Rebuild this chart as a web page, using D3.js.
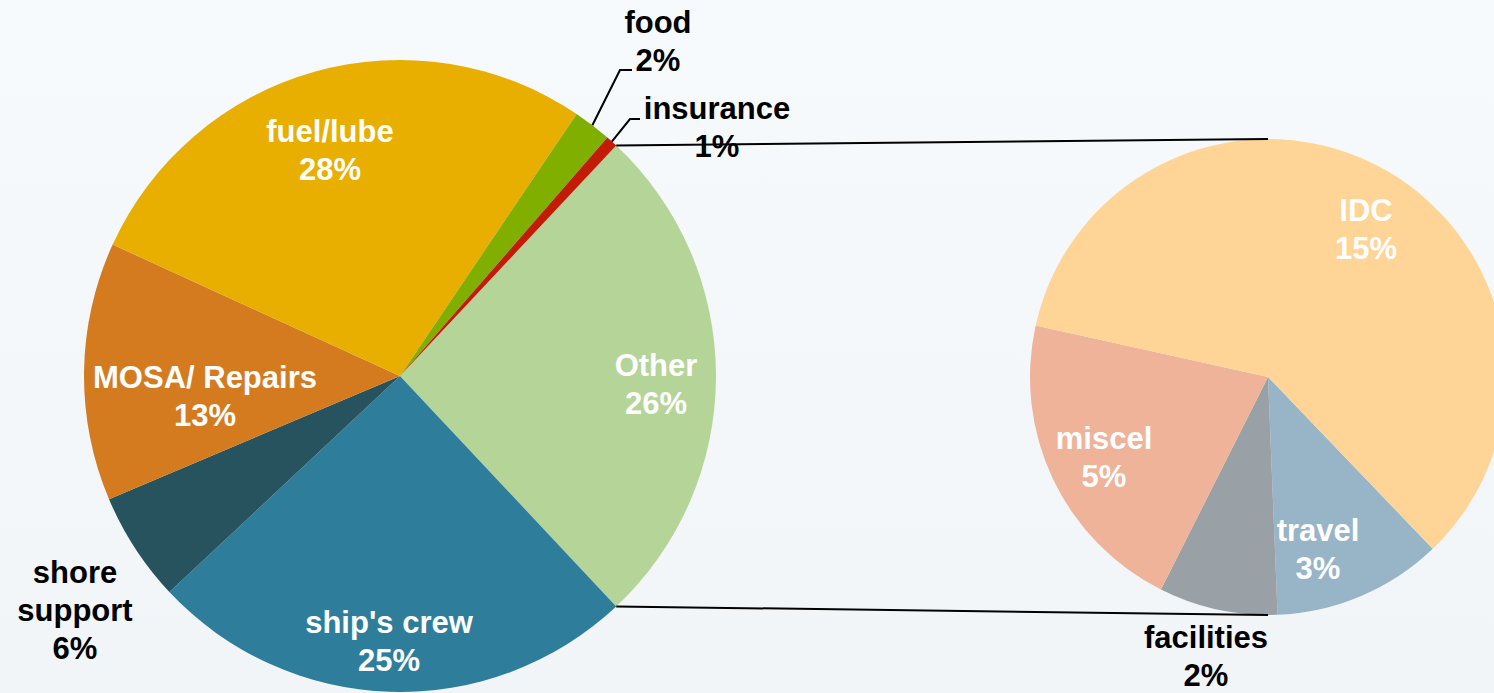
<!DOCTYPE html>
<html>
<head>
<meta charset="utf-8">
<script src="https://cdn.jsdelivr.net/npm/d3@7"></script>
<style>
  html, body { margin: 0; padding: 0; background: #f6f9fb; }
  svg { display: block; }
  text { font-family: "Liberation Sans", Arial, sans-serif; font-weight: bold; }
</style>
</head>
<body>
<svg id="chart" width="1494" height="693"></svg>
<script>
// ---- data ----
const mainCategories = ["Other", "ship's crew", "shore support", "MOSA/ Repairs", "fuel/lube", "food", "insurance"];
const mainValues     = [26.0, 25.0, 5.6, 13.2, 27.6, 1.95, 0.6];
const subCategories  = ["travel", "facilities", "miscel", "IDC"];
const subValues      = [3.0, 2.1, 5.48, 15.45];

// ---- layout / style ----
const W = 1494, H = 693;
const main = { cx: 400, cy: 376, r: 316 };
const sub  = { cx: 1268, cy: 377, r: 238, startDeg: 136.2 };
const mainColors = {
  "Other": "#B5D498", "ship's crew": "#2E7E9B", "shore support": "#27535F",
  "MOSA/ Repairs": "#D47B20", "fuel/lube": "#E8AE00", "food": "#80AF00", "insurance": "#C21C06"
};
const subColors = { "IDC": "#FFD497", "miscel": "#EEB398", "facilities": "#99A1A7", "travel": "#98B4C7" };
// label text lines and placement (center x, first baseline y, colour)
const labelPos = {
  "fuel/lube":     { x: 330, y: 142, c: "#fff", lines: ["fuel/lube"] },
  "MOSA/ Repairs": { x: 205, y: 388, c: "#fff", lines: ["MOSA/ Repairs"] },
  "Other":         { x: 656, y: 376, c: "#fff", lines: ["Other"] },
  "ship's crew":   { x: 389, y: 633, c: "#fff", lines: ["ship's crew"] },
  "shore support": { x: 75,  y: 583, c: "#000", lines: ["shore", "support"] },
  "food":          { x: 658, y: 33,  c: "#000", lines: ["food"] },
  "insurance":     { x: 717, y: 119, c: "#000", lines: ["insurance"] },
  "IDC":           { x: 1366, y: 221, c: "#fff", lines: ["IDC"] },
  "miscel":        { x: 1104, y: 449, c: "#fff", lines: ["miscel"] },
  "travel":        { x: 1318, y: 541, c: "#fff", lines: ["travel"] },
  "facilities":    { x: 1206, y: 648, c: "#000", lines: ["facilities"] }
};
const leaderElbows = { "food": [[620, 70], [632, 70]], "insurance": [[630, 119], [640, 119]] };
const lineH = 38, fontSize = 31;

const svg = d3.select("#chart");
const defs = svg.append("defs");
const bg = defs.append("linearGradient").attr("id", "bg").attr("x1", 0).attr("y1", 0).attr("x2", 0).attr("y2", 1);
bg.append("stop").attr("offset", "0%").attr("stop-color", "#f7fafc");
bg.append("stop").attr("offset", "100%").attr("stop-color", "#f1f5f8");
svg.append("rect").attr("width", W).attr("height", H).attr("fill", "url(#bg)");

const rad = d => d * Math.PI / 180;

// main pie: "Other" centred on the right (90°)
const mainTotal = d3.sum(mainValues);
const otherSpan = 2 * Math.PI * mainValues[0] / mainTotal;
const mainPie = d3.pie().sort(null).value(d => d.v)
  .startAngle(Math.PI / 2 - otherSpan / 2).endAngle(Math.PI / 2 - otherSpan / 2 + 2 * Math.PI);
const mainData = mainPie(mainCategories.map((k, i) => ({ k, v: mainValues[i] })));
const mainArc = d3.arc().innerRadius(0).outerRadius(main.r);

const gMain = svg.append("g").attr("transform", `translate(${main.cx},${main.cy})`);
gMain.selectAll("path").data(mainData).join("path")
  .attr("d", mainArc).attr("fill", d => mainColors[d.data.k]);

// sub pie
const subPie = d3.pie().sort(null).value(d => d.v)
  .startAngle(rad(sub.startDeg)).endAngle(rad(sub.startDeg) + 2 * Math.PI);
const subData = subPie(subCategories.map((k, i) => ({ k, v: subValues[i] })));
const subArc = d3.arc().innerRadius(0).outerRadius(sub.r);
const gSub = svg.append("g").attr("transform", `translate(${sub.cx},${sub.cy})`);
gSub.selectAll("path").data(subData).join("path")
  .attr("d", subArc).attr("fill", d => subColors[d.data.k]);

// connector lines from "Other" slice edges to sub pie top / bottom
const oth = mainData[0];
const pt = (c, r, a) => [c.cx + r * Math.sin(a), c.cy - r * Math.cos(a)];
const pTop = pt(main, main.r, oth.startAngle), pBot = pt(main, main.r, oth.endAngle);
svg.append("line").attr("x1", pTop[0]).attr("y1", pTop[1]).attr("x2", sub.cx).attr("y2", sub.cy - sub.r)
  .attr("stroke", "#000").attr("stroke-width", 2);
svg.append("line").attr("x1", pBot[0]).attr("y1", pBot[1]).attr("x2", sub.cx).attr("y2", sub.cy + sub.r)
  .attr("stroke", "#000").attr("stroke-width", 2);

// leader lines
mainData.filter(d => leaderElbows[d.data.k]).forEach(d => {
  const mid = (d.startAngle + d.endAngle) / 2;
  const s = pt(main, main.r, mid);
  const pts = [s].concat(leaderElbows[d.data.k]);
  svg.append("path").attr("d", d3.line()(pts)).attr("fill", "none")
    .attr("stroke", "#000").attr("stroke-width", 2);
});

// labels
const pctFmt = v => Math.round(v) + "%";
function drawLabel(k, v) {
  const L = labelPos[k];
  const lines = L.lines.concat([pctFmt(v)]);
  const t = svg.append("text").attr("text-anchor", "middle").attr("fill", L.c)
    .style("font-size", fontSize + "px");
  lines.forEach((s, i) => t.append("tspan").attr("x", L.x).attr("y", L.y + i * lineH).text(s));
}
mainData.forEach(d => drawLabel(d.data.k, d.data.v));
subData.forEach(d => drawLabel(d.data.k, d.data.v));
</script>
</body>
</html>
